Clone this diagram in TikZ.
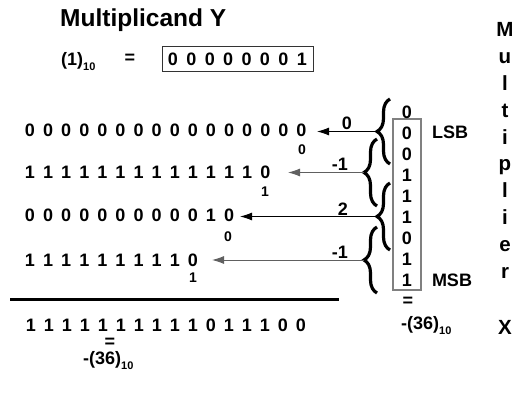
\documentclass[tikz,border=0pt]{standalone}
\usepackage{fontspec}
\setmainfont{Liberation Sans}
\usetikzlibrary{arrows.meta,decorations.pathreplacing}
\begin{document}
\begin{tikzpicture}[x=1pt,y=-1pt,
  dig/.style={font=\fontsize{18}{20}\selectfont\bfseries, inner sep=0pt},
  subd/.style={font=\fontsize{14}{16}\selectfont\bfseries, inner sep=0pt},
  bigt/.style={font=\fontsize{24.5}{28}\selectfont\bfseries, inner sep=0pt},
  vlet/.style={font=\fontsize{20.5}{23}\selectfont\bfseries, inner sep=0pt, anchor=base},
  brc/.style={decorate, decoration={brace, amplitude=13pt}, line width=3.2pt},
  arr/.style={-{Latex[length=12pt,width=8pt]}, line width=1pt},
  garr/.style={arr, draw=gray!75!black}]
\useasboundingbox (0,0) rectangle (515,396);
\newcommand{\tensub}{\raisebox{-5pt}{\fontsize{11}{11}\selectfont 10}}

% title and multiplicand
\node[bigt, anchor=base west] (title) at (60,27) {Multiplicand Y};
\node[dig, anchor=base west] (one) at (61,65.5) {(1)\tensub};
\node[dig] (eqy) at (130,59) {=};
\node[draw=black!80, line width=0.9pt, minimum width=151pt, minimum height=25pt, inner sep=0pt] (ybox) at (237.5,58.5) {};
\foreach \d [count=\i] in {0,0,0,0,0,0,0,1}
  \node[dig] (y\i) at ({173+18.4*(\i-1)},59) {\d};

% partial product rows
\foreach \d [count=\i] in {0,0,0,0,0,0,0,0,0,0,0,0,0,0,0,0}
  \node[dig] (ra\i) at ({30+18.1*(\i-1)},130) {\d};
\foreach \d [count=\i] in {1,1,1,1,1,1,1,1,1,1,1,1,1,0}
  \node[dig] (rb\i) at ({30+18.1*(\i-1)},172) {\d};
\foreach \d [count=\i] in {0,0,0,0,0,0,0,0,0,0,1,0}
  \node[dig] (rc\i) at ({30+18.1*(\i-1)},215) {\d};
\foreach \d [count=\i] in {1,1,1,1,1,1,1,1,1,0}
  \node[dig] (rd\i) at ({30+18.1*(\i-1)},260) {\d};
\node[subd] (sa) at (302,150) {0};
\node[subd] (sb) at (265,192) {1};
\node[subd] (sc) at (228,237) {0};
\node[subd] (sd) at (193,278) {1};

% sum line and result
\coordinate (ruleL) at (10,299);
\coordinate (ruleR) at (339,299);
\draw[line width=3pt] (ruleL) -- (ruleR);
\foreach \d [count=\i] in {1,1,1,1,1,1,1,1,1,1,0,1,1,1,0,0}
  \node[dig] (res\i) at ({31+18*(\i-1)},325) {\d};
\node[dig] (eqr) at (110,343) {=};
\node[dig, anchor=base west] (resdec) at (83,364.5) {-(36)\tensub};

% multiplier column
\node[draw=gray, line width=1.2pt, minimum width=28pt, minimum height=171pt, inner sep=0pt] (xbox) at (407,204.5) {};
\foreach \d [count=\i] in {0,0,0,1,1,1,0,1,1}
  \node[dig] (x\i) at (407,{112+21*(\i-1)}) {\d};
\node[dig] (lsb) at (450,132) {LSB};
\node[dig] (msb) at (452,280) {MSB};
\node[dig] (eqx) at (408,302) {=};
\node[dig, anchor=base west] (xdec) at (401,329.5) {-(36)\tensub};

% braces
\coordinate (b1b) at (390,164); \coordinate (b1t) at (390,99);
\coordinate (b2b) at (377,206); \coordinate (b2t) at (377,139);
\coordinate (b3b) at (390,250); \coordinate (b3t) at (390,183);
\coordinate (b4b) at (377,293); \coordinate (b4t) at (377,227);
\draw[brc] (b1b) -- (b1t);
\draw[brc] (b2b) -- (b2t);
\draw[brc] (b3b) -- (b3t);
\draw[brc] (b4b) -- (b4t);

% arrows
\coordinate (t1) at (377,131.5); \coordinate (e1) at (317,131.5);
\coordinate (t2) at (364,172.5); \coordinate (e2) at (288,172.5);
\coordinate (t3) at (377,216.5); \coordinate (e3) at (240,216.5);
\coordinate (t4) at (364,260);   \coordinate (e4) at (212,260);
\draw[arr] (t1) -- (e1);
\draw[garr] (t2) -- (e2);
\draw[arr] (t3) -- (e3);
\draw[garr] (t4) -- (e4);
\node[dig, anchor=base] (l1) at (347,130) {0};
\node[dig, anchor=base] (l2) at (340,171) {-1};
\node[dig, anchor=base] (l3) at (343,215) {2};
\node[dig, anchor=base] (l4) at (340,258.5) {-1};

% vertical word Multiplier X
\foreach \c [count=\i] in {M,u,l,t,i,p,l,i,e,r}
  \node[vlet] (m\i) at (505,{37+26.8*(\i-1)}) {\c};
\node[vlet] (mx) at (505,334) {X};
\end{tikzpicture}
\end{document}
